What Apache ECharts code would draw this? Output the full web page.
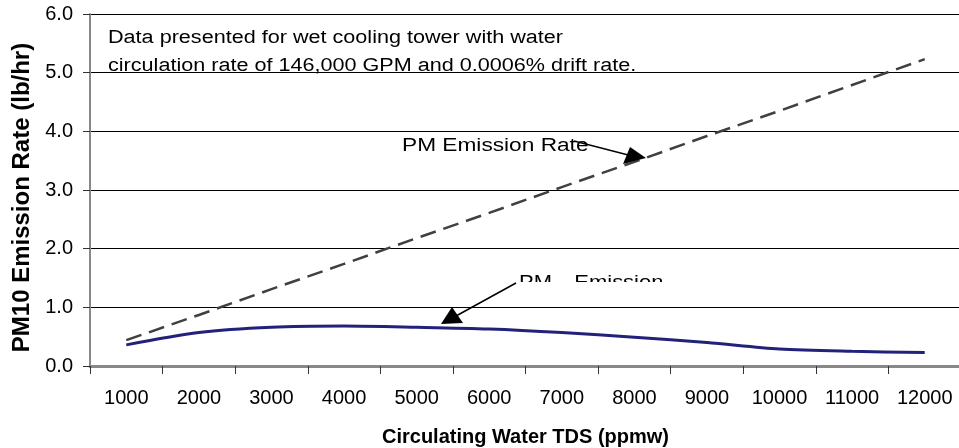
<!DOCTYPE html>
<html><head><meta charset="utf-8">
<script src="https://cdn.jsdelivr.net/npm/echarts@6/dist/echarts.min.js"></script>
<style>html,body{margin:0;padding:0;background:#fff}#c{width:959px;height:448px}</style>
</head><body><div id="c"></div>
<script>
const categories = ['1000','2000','3000','4000','5000','6000','7000','8000','9000','10000','11000','12000'];
const pmEmissionRate = [0.44, 0.87, 1.31, 1.74, 2.18, 2.61, 3.05, 3.48, 3.92, 4.35, 4.79, 5.23];
const pm10EmissionRate = [0.36, 0.57, 0.66, 0.68, 0.66, 0.63, 0.57, 0.49, 0.40, 0.29, 0.25, 0.23];
const yTicks = {min: 0, max: 6, interval: 1};

const chart = echarts.init(document.getElementById('c'), null, {renderer: 'canvas'});
const font = 'Liberation Sans, Arial, sans-serif';
chart.setOption({
  animation: false,
  backgroundColor: '#fff',
  grid: {left: 90, top: 14, width: 871, height: 352, containLabel: false, outerBoundsMode: 'none'},
  xAxis: {
    type: 'category', data: categories, boundaryGap: true,
    axisLine: {lineStyle: {color: '#888', width: 3}},
    axisTick: {show: true, length: 8, lineStyle: {color: '#333', width: 1}},
    axisLabel: {color: '#000', fontSize: 20, fontFamily: font, margin: 22},
    name: 'Circulating Water TDS (ppmw)', nameLocation: 'middle', nameGap: 61,
    nameTextStyle: {color: '#000', fontSize: 20, fontWeight: 'bold', fontFamily: font},
    splitLine: {show: false}
  },
  yAxis: {
    type: 'value', min: yTicks.min, max: yTicks.max, interval: yTicks.interval,
    axisLine: {show: true, lineStyle: {color: '#888', width: 2}},
    axisTick: {show: true, length: 7, lineStyle: {color: '#333', width: 1}},
    axisLabel: {color: '#000', fontSize: 20, fontFamily: font, margin: 17, formatter: v => v.toFixed(1)},
    splitLine: {show: true, lineStyle: {color: '#000', width: 1}},
    name: 'PM10 Emission Rate (lb/hr)', nameLocation: 'middle', nameGap: 54, nameRotate: 90,
    nameTextStyle: {color: '#000', fontSize: 24, fontWeight: 'bold', fontFamily: font, padding: [0, 15, 0, 0]}
  },
  series: [
    {type: 'line', name: 'PM Emission Rate', data: pmEmissionRate, symbol: 'none',
     lineStyle: {color: '#404040', width: 2.5, type: [16, 8]}, z: 3},
    {type: 'line', name: 'PM10 Emission Rate', data: pm10EmissionRate, symbol: 'none', smooth: 0.3,
     lineStyle: {color: '#22227a', width: 3}, z: 4}
  ],
  graphic: [
    {type: 'text', x: 108, y: 24, scaleX: 1.2, z: 10, style: {
      text: 'Data presented for wet cooling tower with water\ncirculation rate of 146,000 GPM and 0.0006% drift rate.',
      fill: '#000', font: '18px ' + font, lineHeight: 28, verticalAlign: 'top'}},
    {type: 'text', x: 402, y: 137, scaleX: 1.26, z: 10, style: {text: 'PM Emission Rate', fill: '#000', font: '18px ' + font, verticalAlign: 'top'}},
    {type: 'line', z: 11, shape: {x1: 574, y1: 141, x2: 636, y2: 157}, style: {stroke: '#000', lineWidth: 1.5}},
    {type: 'polygon', z: 11, shape: {points: [[630, 147], [623, 164], [646, 158]]}, style: {fill: '#000'}},
    {type: 'text', x: 519, y: 268, scaleX: 1.22, z: 10, style: {
      text: '{a|PM}{b|10}{a| Emission}', fill: '#000', font: '18px ' + font, verticalAlign: 'top',
      rich: {a: {fontSize: 18, fontFamily: font}, b: {fontSize: 12, fontFamily: font, padding: [18, 0, 0, 0]}}}},
    {type: 'rect', z: 10.5, shape: {x: 519, y: 282, width: 160, height: 22}, style: {fill: '#fff'}},
    {type: 'line', z: 11, shape: {x1: 516, y1: 283, x2: 456, y2: 316}, style: {stroke: '#000', lineWidth: 1.5}},
    {type: 'polygon', z: 11, shape: {points: [[452, 307], [441, 324], [463, 323]]}, style: {fill: '#000'}}
  ]
});
</script></body></html>
